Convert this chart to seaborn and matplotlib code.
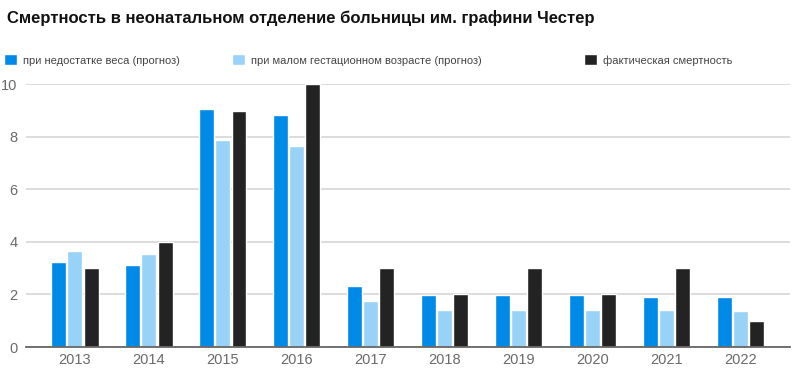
import matplotlib
matplotlib.use('Agg')
import matplotlib.pyplot as plt
import seaborn as sns
import pandas as pd

years = ['2013', '2014', '2015', '2016', '2017', '2018', '2019', '2020', '2021', '2022']
low_weight = [3.23, 3.12, 9.05, 8.82, 2.32, 1.97, 1.97, 1.97, 1.9, 1.9]
low_gest = [3.65, 3.54, 7.87, 7.64, 1.75, 1.42, 1.42, 1.42, 1.42, 1.37]
actual = [3.0, 4.0, 8.97, 10.0, 3.0, 2.0, 3.0, 2.0, 3.0, 0.98]
series_names = ['при недостатке веса (прогноз)',
                'при малом гестационном возрасте (прогноз)',
                'фактическая смертность']
colors = ['#008ae8', '#98d2f7', '#232323']
title = 'Смертность в неонатальном отделение больницы им. графини Честер'

df = pd.DataFrame({
    'year': years * 3,
    'value': low_weight + low_gest + actual,
    'series': [series_names[0]] * 10 + [series_names[1]] * 10 + [series_names[2]] * 10,
})

sns.set_style('white')
plt.rcParams['font.family'] = ['Liberation Sans', 'DejaVu Sans']

fig = plt.figure(figsize=(8, 3.8), dpi=100)
ax = fig.add_axes([0.0325, 0.0868, 0.955, 0.6921])

sns.barplot(data=df, x='year', y='value', hue='series', palette=colors,
            width=0.66, gap=0.08, saturation=1, errorbar=None, ax=ax)

ax.set_xlim(-0.66, 9.67)
ax.set_ylim(0, 10)
ax.set_yticks([0, 2, 4, 6, 8, 10])
ax.yaxis.grid(True, color='#d9d9d9', linewidth=1.3)
ax.set_axisbelow(True)
for sp in ['top', 'right', 'left']:
    ax.spines[sp].set_visible(False)
ax.spines['bottom'].set_color('#666666')
ax.spines['bottom'].set_linewidth(1.3)
ax.tick_params(axis='both', length=0, labelsize=10.5, colors='#6a6a6a', pad=4)
ax.tick_params(axis='y', pad=6)
ax.set_xlabel('')
ax.set_ylabel('')

handles, labels = ax.get_legend_handles_labels()
ax.get_legend().remove()
leg_x = [0.0, 0.285, 0.725]
for h, l, x in zip(handles, labels, leg_x):
    lg = fig.legend([h], [l], loc='center left', bbox_to_anchor=(x, 0.842),
                    frameon=False, fontsize=8, handlelength=1.1, handleheight=1.1,
                    handletextpad=0.6, borderaxespad=0)
    for t in lg.get_texts():
        t.set_color('#444444')

fig.text(0.009, 0.953, title, fontsize=12, fontweight='bold',
         va='center', ha='left', color='#111111')

fig.savefig('out.png', dpi=100)
